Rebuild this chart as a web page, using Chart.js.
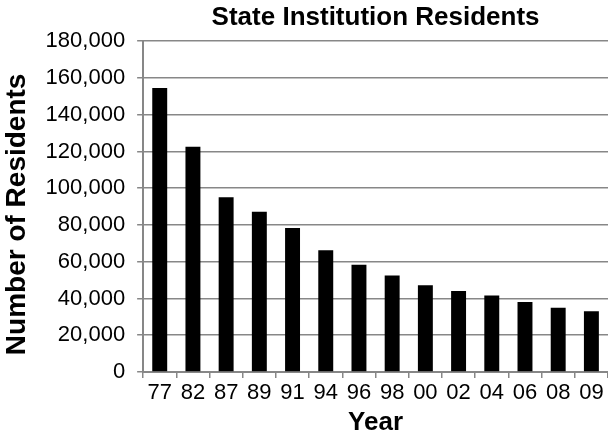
<!DOCTYPE html>
<html>
<head>
<meta charset="utf-8">
<script src="https://cdn.jsdelivr.net/npm/chart.js@4/dist/chart.umd.min.js"></script>
<style>
  body { margin: 0; background: #fff; }
</style>
</head>
<body>
<canvas id="chart-residents" width="608" height="437"></canvas>
<script>
// Daten
var years = ['77', '82', '87', '89', '91', '94', '96', '98', '00', '02', '04', '06', '08', '09'];
var residents = [154600, 122600, 95100, 87200, 78300, 66300, 58300, 52500, 47200, 44100, 41600, 38100, 35000, 33000];
var yTicks = [0, 20000, 40000, 60000, 80000, 100000, 120000, 140000, 160000, 180000];

var canv = window.document.getElementById("chart-residents");
var context = canv.getContext('2d');

var gridGray = '#878787';
var fontFam = 'Liberation Sans, Arial, sans-serif';

var createBarChart = (xData, yData) => {
    var data = {
        labels: xData,
        datasets: [{
            label: 'Residents',
            data: yData,
            backgroundColor: '#000000',
            borderWidth: 0,
            barPercentage: 0.45,
            categoryPercentage: 1.0
        }]
    }
    var config = {
        type: 'bar',
        data: data,
        options: {
            responsive: false,
            animation: false,
            layout: { padding: { left: 0, right: 0, top: 2, bottom: 0 } },
            plugins: {
                legend: { display: false },
                tooltip: { enabled: false },
                title: {
                    display: true,
                    text: 'State Institution Residents',
                    fullSize: false,
                    color: '#000',
                    font: { family: fontFam, size: 26, weight: 'bold', lineHeight: 1.2 },
                    padding: { top: 0, bottom: 8 }
                }
            },
            scales: {
                x: {
                    grid: {
                        display: true,
                        offset: true,
                        drawOnChartArea: false,
                        drawTicks: true,
                        tickLength: 6,
                        color: gridGray,
                        lineWidth: 1.5
                    },
                    border: { color: gridGray, width: 2 },
                    ticks: {
                        color: '#000',
                        padding: 2,
                        maxRotation: 0,
                        autoSkip: false,
                        font: { family: fontFam, size: 22 }
                    },
                    title: {
                        display: true,
                        text: 'Year',
                        color: '#000',
                        padding: { top: 0, bottom: 0 },
                        font: { family: fontFam, size: 26, weight: 'bold', lineHeight: 1.1 }
                    }
                },
                y: {
                    min: 0,
                    max: 180000,
                    afterBuildTicks: (axis) => {
                        axis.ticks = yTicks.map((v) => ({ value: v }));
                    },
                    grid: {
                        color: gridGray,
                        lineWidth: 1.5,
                        drawTicks: true,
                        tickLength: 6
                    },
                    border: { color: gridGray, width: 2 },
                    ticks: {
                        color: '#000',
                        padding: 12,
                        font: { family: fontFam, size: 22 },
                        callback: (v) => Number(v).toLocaleString('en-US')
                    },
                    title: {
                        display: true,
                        text: 'Number of Residents  ',
                        color: '#000',
                        padding: { top: 0, bottom: 0 },
                        font: { family: fontFam, size: 28, weight: 'bold', lineHeight: 1.2 }
                    }
                }
            }
        }
    }
    var chart1 = new Chart(context, config);
}

createBarChart(years, residents);
</script>
</body>
</html>
